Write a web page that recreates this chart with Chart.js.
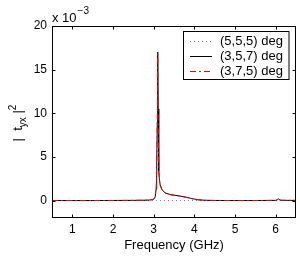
<!DOCTYPE html>
<html><head><meta charset="utf-8">
<style>html,body{margin:0;padding:0;background:#fff}#wrap{width:300px;height:256px}</style>
<script src="https://cdn.jsdelivr.net/npm/chart.js@4"></script>
</head><body><div id="wrap"><canvas id="c" width="300" height="256"></canvas></div>
<script>
const freq = [0.5,1.0,1.5,2.0,2.5,2.8,2.9,2.95,3.0,3.02,3.04,3.06,3.07,3.08,3.09,3.1,3.11,3.12,3.13,3.14,3.16,3.2,3.25,3.3,3.4,3.5,3.6,3.7,3.8,3.9,4.0,4.1,4.2,4.3,4.5,5.0,5.5,6.0,6.04,6.07,6.1,6.15,6.3,6.5];
const s555 = [0,0,0,0,0,0,0,0,0,0,0,0,0,0,0,0,0,0,0,0,0,0,0,0,0,0,0,0,0,0,0,0,0,0,0,0,0,0,0,0,0,0,0,0];
const s357 = [0,0,0,0.01,0.02,0.04,0.06,0.09,0.15,0.25,0.5,1.3,2.5,4.5,9.0,17.0,10.5,5.5,3.4,2.5,1.8,1.3,1.0,0.85,0.7,0.62,0.55,0.47,0.38,0.27,0.17,0.09,0.05,0.03,0.01,0,0,0.02,0.08,0.2,0.06,0.03,0.02,0.02];
const s375 = [0,0,0,0.01,0.02,0.04,0.06,0.1,0.17,0.3,0.6,1.5,2.8,5.2,10.0,16.8,9.5,5.0,3.2,2.4,1.75,1.25,0.97,0.82,0.68,0.6,0.53,0.45,0.36,0.25,0.15,0.08,0.04,0.02,0.01,0,0,0.02,0.07,0.15,0.05,0.03,0.02,0.02];
const xTicks = [1,2,3,4,5,6];
const yTicks = [0,5,10,15,20];
const seriesNames = ['(5,5,5) deg','(3,5,7) deg','(3,7,5) deg'];
const FONT = "'Liberation Sans', Arial, Helvetica, sans-serif";

const toPts = arr => freq.map((f,i)=>({x:f,y:arr[i]}));

const matlabPlugin = {
  id:'matlab',
  afterDraw(chart){
    const ctx = chart.ctx, a = chart.chartArea, xs = chart.scales.x, ys = chart.scales.y;
    ctx.save();
    ctx.strokeStyle = '#000'; ctx.lineWidth = 1; ctx.setLineDash([]);
    const L = Math.round(a.left)+0.5, R = Math.round(a.right)-0.5, T = Math.round(a.top)+0.5, B = Math.round(a.bottom)-0.5;
    ctx.strokeRect(L, T, R-L, B-T);
    const tl = 3;
    ctx.beginPath();
    xTicks.forEach(v=>{ const px = Math.round(xs.getPixelForValue(v))+0.5; ctx.moveTo(px,B); ctx.lineTo(px,B-tl); ctx.moveTo(px,T); ctx.lineTo(px,T+tl); });
    yTicks.forEach(v=>{ const py = Math.round(ys.getPixelForValue(v))+0.5; ctx.moveTo(L,py); ctx.lineTo(L+tl,py); ctx.moveTo(R,py); ctx.lineTo(R-tl,py); });
    ctx.stroke();

    // x title
    ctx.fillStyle = '#000';
    ctx.font = '13px ' + FONT; ctx.textAlign='center'; ctx.textBaseline='alphabetic';
    ctx.fillText('Frequency (GHz)', (a.left+a.right)/2, 249);

    // exponent label
    ctx.textAlign='left';
    ctx.font = '13px ' + FONT;
    ctx.fillText('x 10', a.left, 21.5);
    const w10 = ctx.measureText('x 10').width;
    ctx.font = '10px ' + FONT;
    ctx.fillText('\u22123', a.left + w10 + 1, 14);

    // y title
    ctx.save();
    ctx.translate(22, (a.top+a.bottom)/2 + 1);
    ctx.rotate(-Math.PI/2);
    const parts = [['|  t',13,0],['yx',10,3.5],[' |',13,0],['2',10,-6.5]];
    let tw = 0;
    parts.forEach(p=>{ ctx.font = p[1]+'px '+FONT; tw += ctx.measureText(p[0]).width; });
    let cx = -tw/2;
    ctx.textAlign='left';
    parts.forEach(p=>{ ctx.font = p[1]+'px '+FONT; ctx.fillText(p[0], cx, p[2]); cx += ctx.measureText(p[0]).width; });
    ctx.restore();

    // legend
    const lx = 183.5, ly = 31.5, lw = 105.5, lh = 48;
    ctx.fillStyle = '#fff'; ctx.fillRect(lx, ly, lw, lh);
    ctx.strokeStyle = '#000'; ctx.lineWidth = 1; ctx.strokeRect(lx, ly, lw, lh);
    const ds = chart.data.datasets;
    const rows = [41.5, 56.5, 71.5];
    ds.forEach((d,i)=>{
      ctx.strokeStyle = d.borderColor; ctx.lineWidth = d.borderWidth; ctx.setLineDash(d.borderDash || []);
      ctx.beginPath(); ctx.moveTo(190, rows[i]); ctx.lineTo(212, rows[i]); ctx.stroke();
      ctx.setLineDash([]);
      ctx.fillStyle = '#000'; ctx.font = '13px ' + FONT; ctx.textAlign='left'; ctx.textBaseline='middle';
      ctx.fillText(d.label, 220, rows[i]);
    });
    ctx.restore();
  }
};

new Chart(document.getElementById('c'), {
  type:'line',
  data:{
    datasets:[
      {label:seriesNames[0], data:toPts(s555), borderColor:'#6a6aff', borderWidth:1, borderDash:[1,3], pointRadius:0, order:2},
      {label:seriesNames[1], data:toPts(s357), borderColor:'#000000', borderWidth:1, pointRadius:0, order:1},
      {label:seriesNames[2], data:toPts(s375), borderColor:'#ff0000', borderWidth:1, borderDash:[6,3,2,3], pointRadius:0, order:0}
    ]
  },
  options:{
    responsive:false, animation:false,
    layout:{padding:{top:26,right:4,left:0,bottom:0}},
    plugins:{legend:{display:false}, tooltip:{enabled:false}},
    elements:{line:{tension:0}},
    scales:{
      x:{type:'linear', min:0.5, max:6.5,
        grid:{display:false, drawTicks:false}, border:{display:false},
        afterBuildTicks:s=>{ s.ticks = xTicks.map(v=>({value:v})); },
        afterFit:s=>{ s.height = 38; },
        ticks:{font:{size:12, family:FONT}, color:'#000', padding:4, maxRotation:0}
      },
      y:{type:'linear', min:-2, max:20,
        grid:{display:false, drawTicks:false}, border:{display:false},
        afterBuildTicks:s=>{ s.ticks = yTicks.map(v=>({value:v})); },
        afterFit:s=>{ s.width = 52; },
        ticks:{font:{size:12, family:FONT}, color:'#000', padding:5}
      }
    }
  },
  plugins:[matlabPlugin]
});
</script></body></html>
